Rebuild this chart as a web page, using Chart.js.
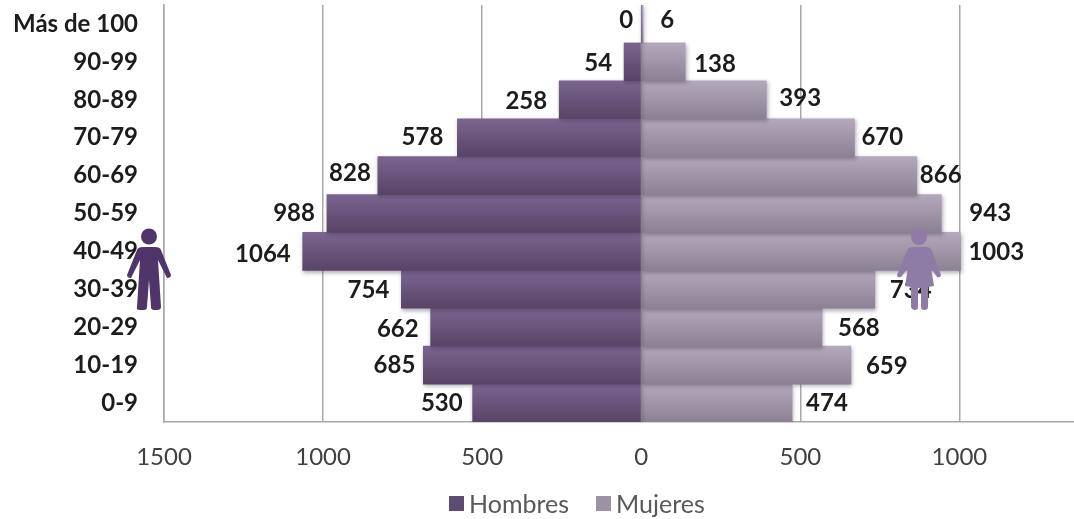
<!DOCTYPE html>
<html>
<head>
<meta charset="utf-8">
<style>
  html, body { margin: 0; padding: 0; background: #fff; overflow: hidden; }
  #wrap { position: relative; width: 1074px; height: 519px; font-family: Lato, sans-serif; }
  #chart { position: absolute; left: 0; top: 0; }
  .figure { position: absolute; top: 228px; width: 46px; height: 83px; }
  #legend { position: absolute; left: 449px; top: 489px; display: flex; align-items: center; font-size: 25px; color: #595959; line-height: 28px; }
  #legend i { display: inline-block; width: 15px; height: 15px; margin-right: 5px; }
  #legend span { margin-right: 27px; }
</style>
<script src="https://cdn.jsdelivr.net/npm/chart.js@4"></script>
</head>
<body>
<div id="wrap">
  <canvas id="chart" width="1074" height="519"></canvas>
  <svg class="figure" style="left:126px" viewBox="0 0 46 83">
    <circle cx="23" cy="8.5" r="8" fill="#4f3569"/>
    <path d="M11 22 Q12 19 17 19 H29 Q34 19 35 22 L45 47 Q45 50 41 50 L32 32 L35 79 Q35 82 31 82 H28 Q25 82 25 79 L23 52 L21 79 Q21 82 18 82 H14 Q10 82 11 79 L14 32 L5 50 Q1 50 1 47 Z" fill="#4f3569"/>
  </svg>
  <svg class="figure" style="left:897px" viewBox="0 0 46 83">
    <circle cx="22" cy="9" r="8" fill="#8f7ca6"/>
    <path d="M10 23 Q11 19 16 19 H29 Q34 19 35 23 L44 47 Q44 50 40 49 L34 40 L37 58 L31 59 V79 Q31 82 27 82 Q24 82 24 79 V60 H21 V79 Q21 82 18 82 Q15 82 14 79 V59 L8 58 L11 40 L4 49 Q0 50 0 47 Z" fill="#8f7ca6"/>
  </svg>
  <div id="legend"></div>
</div>
<script>
const categories = ["0-9", "10-19", "20-29", "30-39", "40-49", "50-59", "60-69", "70-79", "80-89", "90-99", "Más de 100"];
const hombres = [530, 685, 662, 754, 1064, 988, 828, 578, 258, 54, 0];
const mujeres = [474, 659, 568, 734, 1003, 943, 866, 670, 393, 138, 6];
const xTicks = [-1500, -1000, -500, 0, 500, 1000];
const seriesNames = ["Hombres", "Mujeres"];
const swatches = ["#5f4a75", "#9b92a6"];

// the value labels sit unevenly in the original, so each has its own nudge from the bar
const gapHombres = [10, 8, 12, 12, 12, 12, 7, 14, 12, 12, 8];
const gapMujeres = [14, 15, 16, 15, 8, 28, 3, 7, 13, 9, 17];
const nudgeHombres = [0, 0, 2, 1, 3, 0, -2, 0, 1, 1, -4];
const nudgeMujeres = [0, 1, 1, 1, 1, 0, 0, 0, -2, 2, -4];

function barGradient(top, bottom) {
  return function (context) {
    const area = context.chart.chartArea;
    if (!area) return top;
    const rowH = area.height / categories.length;
    const y = context.chart.scales.y.getPixelForValue(context.dataIndex);
    const g = context.chart.ctx.createLinearGradient(0, y - rowH / 2, 0, y + rowH / 2);
    g.addColorStop(0, top);
    g.addColorStop(1, bottom);
    return g;
  };
}

const barShadow = {
  id: "barShadow",
  beforeDatasetDraw(chart) {
    chart.ctx.save();
    chart.ctx.shadowColor = "rgba(60,50,70,0.4)";
    chart.ctx.shadowBlur = 4;
    chart.ctx.shadowOffsetX = 1;
    chart.ctx.shadowOffsetY = 2;
  },
  afterDatasetDraw(chart) {
    chart.ctx.restore();
  }
};

const valueLabels = {
  id: "valueLabels",
  afterDatasetsDraw(chart) {
    const ctx = chart.ctx;
    const xs = chart.scales.x;
    const ys = chart.scales.y;
    ctx.save();
    ctx.font = "bold 24px Lato";
    ctx.fillStyle = "#1c1c1c";
    ctx.textBaseline = "middle";
    categories.forEach((c, i) => {
      const y = ys.getPixelForValue(i);
      ctx.textAlign = "right";
      ctx.fillText(hombres[i], xs.getPixelForValue(-hombres[i]) - gapHombres[i], y + nudgeHombres[i]);
      ctx.textAlign = "left";
      ctx.fillText(mujeres[i], xs.getPixelForValue(mujeres[i]) + gapMujeres[i], y + nudgeMujeres[i]);
    });
    ctx.restore();
  }
};

new Chart(document.getElementById("chart"), {
  type: "bar",
  data: {
    labels: categories,
    datasets: [
      {
        label: seriesNames[0],
        data: hombres.map(v => -v),
        backgroundColor: barGradient("#7a6590", "#584465")
      },
      {
        label: seriesNames[1],
        data: mujeres,
        backgroundColor: barGradient("#b3a9ba", "#8b8193")
      }
    ]
  },
  options: {
    indexAxis: "y",
    responsive: false,
    animation: false,
    layout: { padding: { left: 0, right: 0, top: 5, bottom: 37 } },
    datasets: { bar: { categoryPercentage: 1, barPercentage: 1, borderWidth: 0 } },
    scales: {
      x: {
        stacked: true,
        min: -1500,
        max: 1360,
        afterBuildTicks(axis) { axis.ticks = xTicks.map(v => ({ value: v })); },
        afterFit(axis) { axis.height = 60; axis.paddingLeft = 0; axis.paddingRight = 0; },
        grid: { color: "#a8a8a8", lineWidth: 1.5, drawTicks: false },
        border: { color: "#a8a8a8", width: 1.5 },
        ticks: {
          maxRotation: 0,
          padding: 21,
          color: "#404040",
          font: { family: "Lato", size: 24 },
          callback: v => Math.abs(v)
        }
      },
      y: {
        stacked: true,
        reverse: true,
        afterFit(axis) { axis.width = 164; axis.paddingTop = 0; axis.paddingBottom = 0; },
        grid: { display: false },
        border: { color: "#a8a8a8", width: 1.5 },
        ticks: {
          padding: 18,
          color: "#1c1c1c",
          font: { family: "Lato", size: 24, weight: "bold" }
        }
      }
    },
    plugins: {
      legend: { display: false },
      tooltip: { enabled: false }
    }
  },
  plugins: [barShadow, valueLabels]
});

const legend = document.getElementById("legend");
seriesNames.forEach((name, i) => {
  const box = document.createElement("i");
  box.style.background = swatches[i];
  const text = document.createElement("span");
  text.textContent = name;
  legend.append(box, text);
});
</script>
</body>
</html>
